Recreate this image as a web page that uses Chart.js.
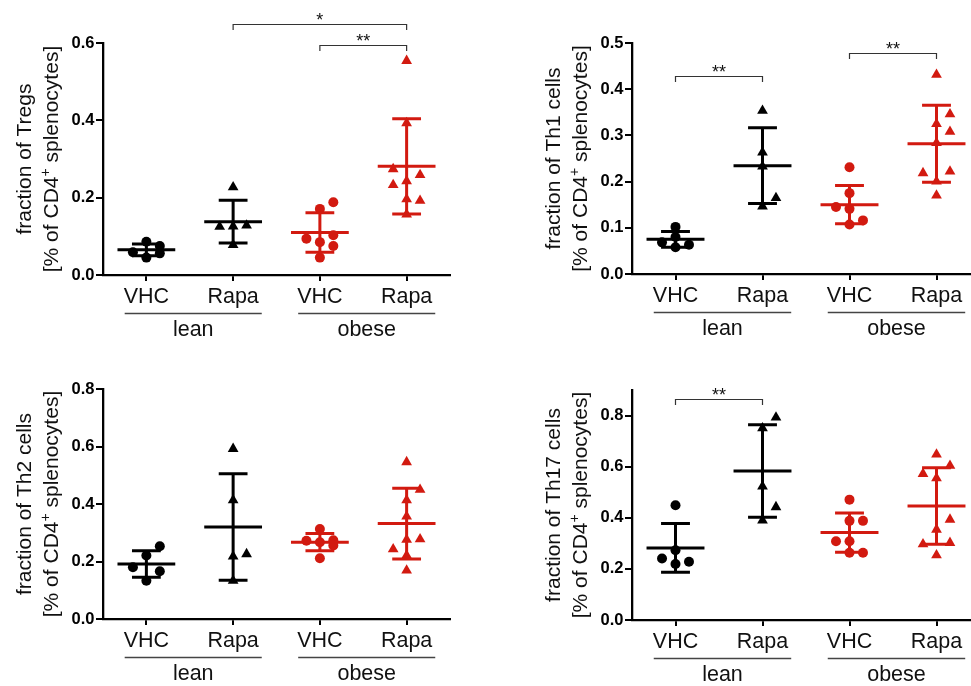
<!DOCTYPE html>
<html>
<head>
<meta charset="utf-8">
<script src="https://cdn.jsdelivr.net/npm/chart.js@4.4.1/dist/chart.umd.min.js"></script>
<style>
  html, body { margin: 0; padding: 0; background: #fff; width: 971px; height: 686px; overflow: hidden; position: relative; }
  canvas { position: absolute; }
</style>
</head>
<body>
<canvas id="p0" width="485" height="343" style="left:0;top:0;width:485px;height:343px"></canvas>
<canvas id="p1" width="510" height="343" style="left:485px;top:0;width:510px;height:343px"></canvas>
<canvas id="p2" width="485" height="343" style="left:0;top:343px;width:485px;height:343px"></canvas>
<canvas id="p3" width="510" height="343" style="left:485px;top:343px;width:510px;height:343px"></canvas>
<script>
// ---- data ----
const categories = ['VHC', 'Rapa', 'VHC', 'Rapa'];
const cohorts = ['lean', 'obese'];
const panelTitles = ['fraction of Tregs', 'fraction of Th1 cells', 'fraction of Th2 cells', 'fraction of Th17 cells'];
const yMax = [0.6, 0.5, 0.8, 0.9];
const yStep = [0.2, 0.1, 0.2, 0.2];

// Tregs
const tregLeanVhc = [0.086, 0.045, 0.056, 0.059, 0.075];
const tregLeanRapa = [0.227, 0.126, 0.078, 0.128, 0.125];
const tregObeseVhc = [0.171, 0.085, 0.045, 0.188, 0.103, 0.094, 0.075];
const tregObeseRapa = [0.554, 0.393, 0.243, 0.196, 0.157, 0.259, 0.274, 0.192, 0.233];
const tregMean = [0.065, 0.138, 0.110, 0.281];
const tregSd = [0.015, 0.055, 0.051, 0.123];
const tregSig = [[2, 4, '*', 0.649], [3, 4, '**', 0.596]];

// Th1
const th1LeanVhc = [0.102, 0.058, 0.0635, 0.0685, 0.080];
const th1LeanRapa = [0.3535, 0.233, 0.1465, 0.1645, 0.263];
const th1ObeseVhc = [0.231, 0.175, 0.141, 0.107, 0.116, 0.145];
const th1ObeseRapa = [0.4315, 0.325, 0.2835, 0.2005, 0.170, 0.308, 0.346, 0.222, 0.2185];
const th1Mean = [0.075, 0.2345, 0.150, 0.282];
const th1Sd = [0.017, 0.082, 0.0415, 0.0835];
const th1Sig = [[1, 2, '**', 0.428], [3, 4, '**', 0.478]];

// Th2
const th2LeanVhc = [0.221, 0.133, 0.166, 0.180, 0.253];
const th2LeanRapa = [0.592, 0.413, 0.218, 0.133, 0.226];
const th2ObeseVhc = [0.267, 0.211, 0.274, 0.272, 0.256, 0.313];
const th2ObeseRapa = [0.546, 0.413, 0.357, 0.276, 0.221, 0.169, 0.450, 0.278, 0.243];
const th2Mean = [0.191, 0.320, 0.267, 0.332];
const th2Sd = [0.046, 0.185, 0.030, 0.123];
const th2Sig = [];

// Th17
const th17LeanVhc = [0.449, 0.273, 0.219, 0.228, 0.241];
const th17LeanRapa = [0.751, 0.523, 0.390, 0.793, 0.442];
const th17ObeseVhc = [0.471, 0.388, 0.308, 0.263, 0.388, 0.308, 0.263];
const th17ObeseRapa = [0.648, 0.555, 0.354, 0.302, 0.254, 0.604, 0.572, 0.393, 0.297];
const th17Mean = [0.282, 0.583, 0.342, 0.446];
const th17Sd = [0.0955, 0.181, 0.077, 0.150];
const th17Sig = [[1, 2, '**', 0.865]];

const panelGroups = [
  [tregLeanVhc, tregLeanRapa, tregObeseVhc, tregObeseRapa],
  [th1LeanVhc, th1LeanRapa, th1ObeseVhc, th1ObeseRapa],
  [th2LeanVhc, th2LeanRapa, th2ObeseVhc, th2ObeseRapa],
  [th17LeanVhc, th17LeanRapa, th17ObeseVhc, th17ObeseRapa]
];
const panelMeans = [tregMean, th1Mean, th2Mean, th17Mean];
const panelSds = [tregSd, th1Sd, th2Sd, th17Sd];
const panelSig = [tregSig, th1Sig, th2Sig, th17Sig];

// ---- styling ----
const FONT = "'Liberation Sans', Arial, Helvetica, sans-serif";
const BLACK = '#000000';
const RED = '#d21a10';
const groupColors = [BLACK, BLACK, RED, RED];
const groupShapes = ['circle', 'triangle', 'circle', 'triangle'];
const LANE = 0.155;          // horizontal step between side-by-side symbols (category units)
const MIN_GAP_PX = 13.5;     // symbols closer than this vertically are placed side by side
const PLOT_H = 231;
const Y_AXIS_W = 60;
const X_AXIS_H = 34;
const TITLE_SIZE = 21;

// outer edges of each plot area (y-axis box and x-axis box sit inside these)
const plotEdges = [
  { left: 103, right: 35, top: 43, bottom: 68 },
  { left: 147, right: 15, top: 43, bottom: 69 },
  { left: 103, right: 35, top: 46, bottom: 67 },
  { left: 147, right: 15, top: 47, bottom: 66 }
];

// place overlapping symbols in side lanes (centre, right, left)
function lanesFor(values, thr) {
  const placed = [];
  const order = [0, 1, -1];
  return values.map(v => {
    let best = 0, bestGap = -1;
    for (const s of order) {
      const gap = placed.filter(p => p.slot === s)
        .reduce((m, p) => Math.min(m, Math.abs(p.v - v)), Infinity);
      if (gap >= thr) { best = s; break; }
      if (gap > bestGap) { bestGap = gap; best = s; }
    }
    placed.push({ v, slot: best });
    return best;
  });
}

const extras = {
  id: 'dotPlotExtras',
  afterDatasetsDraw(chart, args, opts) {
    const ctx = chart.ctx;
    const xs = chart.scales.x, ys = chart.scales.y;
    const area = chart.chartArea;
    const catW = xs.getPixelForValue(2) - xs.getPixelForValue(1);

    // mean with SD bars
    opts.mean.forEach((m, g) => {
      const cx = xs.getPixelForValue(g + 1);
      const yM = ys.getPixelForValue(m);
      const yHi = ys.getPixelForValue(m + opts.sd[g]);
      const yLo = ys.getPixelForValue(m - opts.sd[g]);
      ctx.save();
      ctx.strokeStyle = groupColors[g];
      ctx.lineWidth = 3;
      ctx.lineCap = 'butt';
      ctx.beginPath();
      ctx.moveTo(cx, yHi); ctx.lineTo(cx, yLo);
      ctx.moveTo(cx - catW * 0.166, yHi); ctx.lineTo(cx + catW * 0.166, yHi);
      ctx.moveTo(cx - catW * 0.166, yLo); ctx.lineTo(cx + catW * 0.166, yLo);
      ctx.moveTo(cx - catW * 0.333, yM); ctx.lineTo(cx + catW * 0.333, yM);
      ctx.stroke();
      ctx.restore();
    });

    // significance brackets
    opts.sig.forEach(([a, b, label, level]) => {
      const x1 = xs.getPixelForValue(a), x2 = xs.getPixelForValue(b);
      const y = Math.round(ys.getPixelForValue(level)) + 0.5;
      ctx.save();
      ctx.strokeStyle = '#333';
      ctx.lineWidth = 1.2;
      ctx.beginPath();
      ctx.moveTo(x1, y + 5.5); ctx.lineTo(x1, y); ctx.lineTo(x2, y); ctx.lineTo(x2, y + 5.5);
      ctx.stroke();
      ctx.fillStyle = '#111';
      ctx.font = `18px ${FONT}`;
      ctx.textAlign = 'center';
      ctx.textBaseline = 'alphabetic';
      ctx.fillText(label, (x1 + x2) / 2, y + 1.5);
      ctx.restore();
    });

    // cohort underlines and names
    cohorts.forEach((name, k) => {
      const a = xs.getPixelForValue(2 * k + 1) - catW * 0.25;
      const b = xs.getPixelForValue(2 * k + 2) + catW * 0.33;
      const y = area.bottom + 38.5;
      ctx.save();
      ctx.strokeStyle = '#444';
      ctx.lineWidth = 1.3;
      ctx.beginPath();
      ctx.moveTo(a, y); ctx.lineTo(b, y);
      ctx.stroke();
      ctx.fillStyle = '#111';
      ctx.font = `21.5px ${FONT}`;
      ctx.textAlign = 'center';
      ctx.textBaseline = 'alphabetic';
      ctx.fillText(name, (a + b) / 2, area.bottom + 61);
      ctx.restore();
    });

    // two-line rotated axis title
    const midY = (area.top + area.bottom) / 2;
    ctx.save();
    ctx.fillStyle = '#111';
    ctx.translate(area.left - 72, midY);
    ctx.rotate(-Math.PI / 2);
    ctx.font = `${TITLE_SIZE}px ${FONT}`;
    ctx.textAlign = 'center';
    ctx.textBaseline = 'alphabetic';
    ctx.fillText(opts.title, 0, 0);
    ctx.restore();

    ctx.save();
    ctx.fillStyle = '#111';
    ctx.translate(area.left - 45, midY);
    ctx.rotate(-Math.PI / 2);
    ctx.textAlign = 'left';
    ctx.textBaseline = 'alphabetic';
    const partA = '[% of CD4', sup = '+', partB = ' splenocytes]';
    ctx.font = `${TITLE_SIZE}px ${FONT}`;
    const wA = ctx.measureText(partA).width, wB = ctx.measureText(partB).width;
    ctx.font = `14px ${FONT}`;
    const wS = ctx.measureText(sup).width;
    const x0 = -(wA + wS + wB) / 2;
    ctx.font = `${TITLE_SIZE}px ${FONT}`;
    ctx.fillText(partA, x0, 0);
    ctx.font = `14px ${FONT}`;
    ctx.fillText(sup, x0 + wA, -8);
    ctx.font = `${TITLE_SIZE}px ${FONT}`;
    ctx.fillText(partB, x0 + wA + wS, 0);
    ctx.restore();
  }
};

function buildPanel(p) {
  const thr = MIN_GAP_PX * yMax[p] / PLOT_H;
  const datasets = panelGroups[p].map((vals, g) => {
    const lanes = lanesFor(vals, thr);
    return {
      data: vals.map((v, i) => ({ x: g + 1 + lanes[i] * LANE, y: v })),
      pointStyle: groupShapes[g],
      pointRadius: groupShapes[g] === 'circle' ? 5 : 6.2,
      pointBackgroundColor: groupColors[g],
      pointBorderColor: groupColors[g],
      pointBorderWidth: 0,
      showLine: false,
      clip: false
    };
  });

  const e = plotEdges[p];
  new Chart(document.getElementById('p' + p), {
    type: 'scatter',
    data: { datasets },
    plugins: [extras],
    options: {
      responsive: false,
      animation: false,
      devicePixelRatio: 1,
      layout: { padding: { left: e.left - Y_AXIS_W, right: e.right, top: e.top, bottom: e.bottom - X_AXIS_H } },
      plugins: {
        legend: { display: false },
        tooltip: { enabled: false },
        dotPlotExtras: { mean: panelMeans[p], sd: panelSds[p], sig: panelSig[p], title: panelTitles[p] }
      },
      scales: {
        x: {
          type: 'linear',
          min: 0.5, max: 4.5,
          afterFit(s) { s.height = X_AXIS_H; },
          afterBuildTicks(s) { s.ticks = categories.map((_, i) => ({ value: i + 1 })); },
          border: { display: true, color: BLACK, width: 2.3 },
          grid: { display: true, drawOnChartArea: false, drawTicks: true, tickLength: 6, color: BLACK, lineWidth: 2 },
          ticks: {
            autoSkip: false, maxRotation: 0, minRotation: 0, padding: 5.5, color: '#111',
            font: { family: FONT, size: 21.5, lineHeight: 1 },
            callback: v => categories[Math.round(v) - 1]
          }
        },
        y: {
          min: 0, max: yMax[p],
          afterFit(s) { s.width = Y_AXIS_W; },
          border: { display: true, color: BLACK, width: 2.3 },
          grid: { display: true, drawOnChartArea: false, drawTicks: true, tickLength: 7, color: BLACK, lineWidth: 2 },
          ticks: {
            stepSize: yStep[p], includeBounds: false, padding: 1.5, color: BLACK,
            font: { family: FONT, size: 16.5, weight: 'bold' },
            callback: v => v.toFixed(1)
          }
        }
      }
    }
  });
}

[0, 1, 2, 3].forEach(buildPanel);
</script>
</body>
</html>
